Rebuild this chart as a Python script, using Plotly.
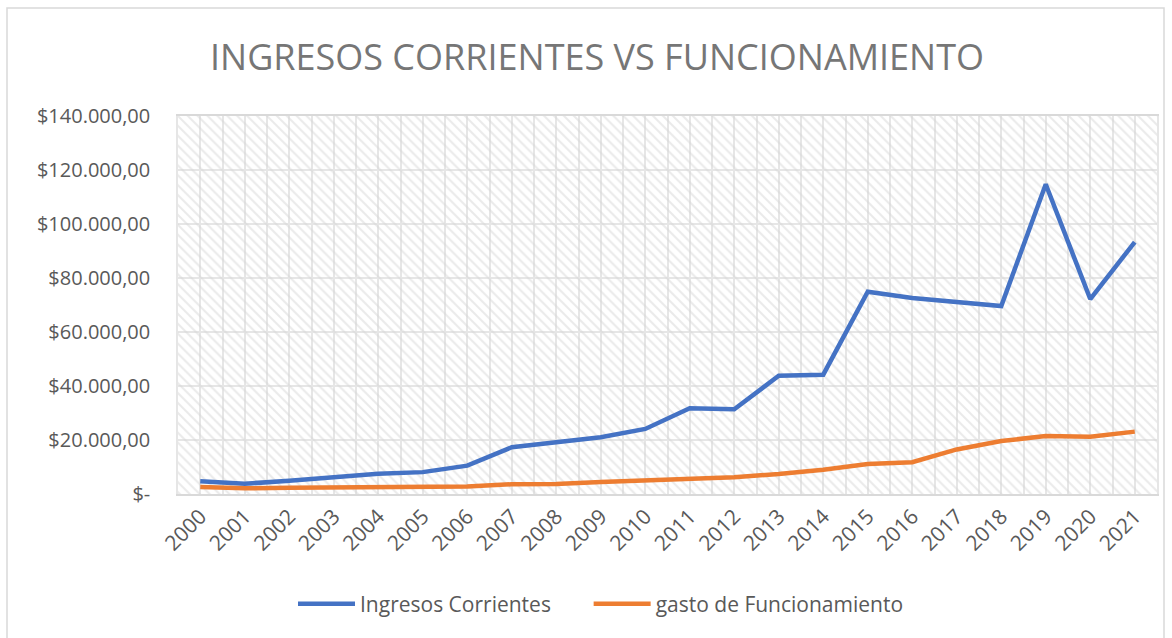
import plotly.graph_objects as go

years = list(range(2000, 2022))
ingresos_corrientes = [4700, 3800, 4900, 6400, 7500, 8100, 10500, 17300, 19200, 21000, 24100, 31800,
                       31400, 43800, 44200, 74900, 72600, 71100, 69600, 114700, 72200, 93300]
gasto_funcionamiento = [2600, 2100, 2300, 2500, 2600, 2700, 2800, 3600, 3700, 4400, 4900, 5400,
                        6200, 7400, 9000, 11100, 11800, 16500, 19600, 21500, 21200, 23100]
y_ticks = [0, 20000, 40000, 60000, 80000, 100000, 120000, 140000]
Y_MAX = 140000
title_text = "INGRESOS CORRIENTES VS FUNCIONAMIENTO"
series_names = ["Ingresos Corrientes", "gasto de Funcionamiento"]


def fmt(v):
    if v == 0:
        return "$-"
    s = f"{v:,.2f}"
    return "$" + s.replace(",", "X").replace(".", ",").replace("X", ".")


y_ticktext = [fmt(v) for v in y_ticks]

W, H = 1172, 638
L, R, T, B = 178, 15, 116, 144
PW, PH = W - L - R, H - T - B


def px_x(p):
    return (p - L) / PW


def px_y(p):
    return (H - B - p) / PH


GRAY_TXT = "#595959"
FONT = "Open Sans"
NBSP = "\u00a0"

fig = go.Figure()

# hatched plot-area background
fig.add_trace(go.Bar(
    x=years, y=[Y_MAX] * len(years), width=1,
    marker=dict(color="rgba(0,0,0,0)", line=dict(width=0),
                pattern=dict(shape="\\", fgcolor="#d6d6d6", bgcolor="rgba(0,0,0,0)",
                             size=7, solidity=0.3, fillmode="overlay")),
    hoverinfo="skip", showlegend=False,
))

fig.add_trace(go.Scatter(
    x=years, y=ingresos_corrientes, mode="lines", name=series_names[0] + NBSP * 6,
    line=dict(color="#4472C4", width=4.5),
))
fig.add_trace(go.Scatter(
    x=years, y=gasto_funcionamiento, mode="lines", name=series_names[1],
    line=dict(color="#ED7D31", width=4.5),
))

fig.update_layout(
    width=W, height=H,
    margin=dict(l=L, r=R, t=T, b=B),
    paper_bgcolor="white", plot_bgcolor="white",
    bargap=0,
    title=dict(text=title_text, x=597 / W, xref="container", xanchor="center",
               y=1 - 57 / H, yref="container", yanchor="middle",
               font=dict(family=FONT, size=36, color="#767676")),
    font=dict(family=FONT, color=GRAY_TXT),
    showlegend=True,
    legend=dict(orientation="h", x=601 / W, xanchor="center", xref="container",
                y=1 - 604 / H, yref="container", yanchor="middle",
                font=dict(family=FONT, size=21, color=GRAY_TXT),
                itemwidth=57, tracegroupgap=0),
    xaxis=dict(
        range=[1999.5, 2021.5], tickmode="array", tickvals=years,
        ticktext=[str(y) for y in years], tickangle=-45,
        tickfont=dict(family=FONT, size=21, color=GRAY_TXT),
        showgrid=True, gridcolor="#e6e6e6", gridwidth=1.5,
        minor=dict(tickmode="array", tickvals=[y + 0.5 for y in years[:-1]],
                   showgrid=True, gridcolor="#e6e6e6", gridwidth=1.5),
        showline=True, linecolor="#d9d9d9", linewidth=2, mirror=True,
        ticks="", zeroline=False, fixedrange=True,
    ),
    yaxis=dict(
        range=[0, Y_MAX], tickmode="array", tickvals=y_ticks, ticktext=y_ticktext,
        tickfont=dict(family=FONT, size=20, color=GRAY_TXT),
        showgrid=True, gridcolor="#e6e6e6", gridwidth=1.5,
        showline=True, linecolor="#e6e6e6", linewidth=1.5, mirror=True,
        ticks="", ticklabelstandoff=22, zeroline=False, fixedrange=True,
    ),
)

# outer chart border
fig.add_shape(type="rect", xref="paper", yref="paper",
              x0=px_x(7), x1=px_x(1164), y0=px_y(8), y1=px_y(645),
              line=dict(color="#d9d9d9", width=1.5), fillcolor="rgba(0,0,0,0)", layer="below")

fig.write_html("out.html", config={"displayModeBar": False},
               post_script="document.body.style.margin='0';")
